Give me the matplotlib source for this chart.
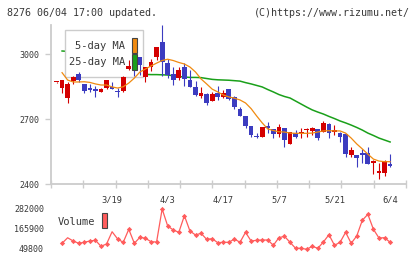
import numpy as np
import matplotlib
matplotlib.use("Agg")
import matplotlib.pyplot as plt
from matplotlib.patches import Rectangle

code = "8276"
updated = "06/04 17:00"
copyright_text = "(C)https://www.rizumu.net/"

date_labels = ["3/19", "4/3", "4/17", "5/7", "5/21", "6/4"]
date_label_idx = [10, 20, 30, 40, 50, 60]

opens = [2869, 2844, 2798, 2875, 2908, 2862, 2845, 2838, 2825, 2843,
         2846, 2828, 2829, 2931, 2942, 2985, 2895, 2942, 2988, 3057,
         2960, 2908, 2888, 2942, 2880, 2849, 2806, 2815, 2785, 2821,
         2800, 2838, 2800, 2745, 2714, 2668, 2622, 2618, 2668, 2652,
         2631, 2660, 2585, 2634, 2634, 2649, 2646, 2654, 2642, 2677,
         2641, 2634, 2631, 2534, 2534, 2545, 2545, 2498, 2449, 2452,
         2492]
highs = [2872, 2880, 2872, 2898, 2918, 2862, 2860, 2852, 2843, 2880,
         2872, 2843, 2897, 2972, 2963, 2987, 2940, 2975, 3034, 3134,
         2975, 2940, 2940, 2960, 2926, 2877, 2849, 2821, 2824, 2852,
         2834, 2838, 2806, 2757, 2714, 2668, 2637, 2665, 2688, 2652,
         2678, 2660, 2641, 2649, 2658, 2658, 2662, 2654, 2692, 2683,
         2672, 2638, 2631, 2569, 2534, 2560, 2572, 2511, 2495, 2511,
         2538]
lows = [2868, 2821, 2775, 2862, 2872, 2819, 2823, 2800, 2824, 2840,
        2838, 2803, 2827, 2925, 2900, 2905, 2872, 2923, 2972, 2900,
        2888, 2855, 2878, 2852, 2849, 2808, 2796, 2767, 2781, 2789,
        2798, 2789, 2745, 2714, 2658, 2618, 2612, 2618, 2634, 2614,
        2618, 2572, 2583, 2611, 2611, 2618, 2625, 2603, 2642, 2611,
        2626, 2592, 2526, 2523, 2480, 2495, 2492, 2446, 2423, 2437,
        2480]
closes = [2872, 2880, 2862, 2892, 2880, 2829, 2834, 2831, 2838, 2880,
          2840, 2823, 2895, 2945, 2936, 2949, 2938, 2965, 3034, 2965,
          2903, 2880, 2926, 2883, 2849, 2811, 2821, 2772, 2815, 2803,
          2821, 2791, 2754, 2714, 2668, 2626, 2616, 2665, 2660, 2631,
          2662, 2603, 2641, 2618, 2641, 2656, 2657, 2611, 2683, 2634,
          2649, 2618, 2538, 2557, 2521, 2534, 2492, 2506, 2461, 2508,
          2483]

nan = float("nan")
ma5 = [nan, 2914, 2880, 2871, 2871, 2872, 2869, 2862, 2857, 2857,
       2848, 2843, 2849, 2866, 2889, 2917, 2931, 2945, 2958, 2970,
       2976, 2970, 2961, 2954, 2940, 2917, 2885, 2862, 2838, 2825,
       2811, 2802, 2796, 2788, 2774, 2748, 2714, 2682, 2654, 2647,
       2641, 2640, 2635, 2634, 2634, 2634, 2635, 2640, 2645, 2646,
       2645, 2645, 2635, 2612, 2585, 2562, 2538, 2515, 2506, 2503,
       2503]
ma25 = [nan, 3014, 3012, nan, nan, nan, nan, nan, nan, nan,
        nan, nan, nan, nan, nan, 2908, 2906, 2905, 2905, 2904,
        2903, 2900, 2896, 2894, 2892, 2892, 2891, 2887, 2883, 2881,
        2880, 2879, 2877, 2875, 2868, 2862, 2855, 2848, 2836, 2825,
        2813, 2804, 2797, 2783, 2769, 2755, 2742, 2732, 2723, 2712,
        2702, 2691, 2682, 2672, 2661, 2649, 2635, 2624, 2612, 2603,
        2594]
volume = [nan, 82900, 115000, 96200, 82900, 88700, 96200, 100300, 65500, 78800,
          150000, 107800, 88700, 164200, 82900, 117700, 111900, 92200, 90400, 282000,
          183300, 160100, 146700, 243100, 154300, 131100, 140900, 106100, 109600, 86400,
          88700, 88700, 107800, 88700, 146700, 96200, 100300, 102000, 102000, 71300,
          115400, 123500, 88700, 53900, 53900, 48100, 65500, 53900, 90400, 132800,
          71300, 88700, 146700, 82900, 125300, 216400, 251200, 164200, 113700, 115400,
          88700]

price_ticks = [2400, 2700, 3000]
volume_ticks = [49800, 165900, 282000]

# ---------------------------------------------------------------
W, H = 420, 259
fig = plt.figure(figsize=(W / 100, H / 100), dpi=100)
fig.patch.set_facecolor("white")
MONO = "DejaVu Sans Mono"
TXT = "#383838"
GRAY = "#cccccc"
RED = "#d40000"
BLUE = "#3c3cc0"


def fx(px):
    return px / W


def fy(py):
    return 1 - py / H


idx = np.arange(len(closes))
x0, x1 = -0.99, 62.86

ax = fig.add_axes([fx(51), fy(184), fx(406) - fx(51), fy(25) - fy(184)])
ax.set_xlim(x0, x1)
ax.set_ylim(2400, 3134)
for s in ("top", "right"):
    ax.spines[s].set_visible(False)
for s in ("left", "bottom"):
    ax.spines[s].set_color(GRAY)
    ax.spines[s].set_linewidth(1.3)

ax.set_yticks(price_ticks)
ax.set_yticklabels([str(v) for v in price_ticks], family=MONO, fontsize=6, color=TXT)
ax.tick_params(axis="y", direction="out", length=4.3, width=1, color=GRAY, pad=4)

ax.set_xticks(date_label_idx)
ax.set_xticklabels(date_labels, family=MONO, fontsize=6.3, color=TXT)
ax.tick_params(axis="x", which="major", length=0, pad=8)
ax.set_xticks(np.linspace(x0, x1, 12), minor=True)
ax.tick_params(axis="x", which="minor", direction="inout", length=6, width=1, color=GRAY)

colors = [RED if c >= o else BLUE for o, c in zip(opens, closes)]
ax.vlines(idx, lows, highs, colors=colors, lw=0.8, zorder=3)
bottoms = [min(o, c) for o, c in zip(opens, closes)]
heights = [max(abs(c - o), 5) for o, c in zip(opens, closes)]
ax.bar(idx, heights, 0.85, bottom=bottoms, color=colors, linewidth=0, zorder=3.5)

ax.plot(idx, ma25, color="#1aa01a", lw=1.1, zorder=1)
ax.plot(idx, ma5, color="#f08a10", lw=0.9, zorder=4)

# legend box
ax.add_patch(Rectangle((fx(65), fy(77)), fx(143) - fx(65), fy(30) - fy(77),
                       transform=fig.transFigure, facecolor="white",
                       edgecolor=GRAY, lw=1, zorder=2, clip_on=False))
ax.text(fx(125), fy(46), "5-day MA", transform=fig.transFigure, ha="right",
        va="center", family=MONO, fontsize=7.5, color=TXT, zorder=5)
ax.text(fx(125), fy(62), "25-day MA", transform=fig.transFigure, ha="right",
        va="center", family=MONO, fontsize=7.5, color=TXT, zorder=5)
ax.add_patch(Rectangle((fx(131.5), fy(52.5)), 5.5 / W, 15 / H, transform=fig.transFigure,
                       facecolor="#f08a10", edgecolor="#444444", lw=0.8, zorder=5, clip_on=False))
ax.add_patch(Rectangle((fx(131.5), fy(69.5)), 5.5 / W, 15.5 / H, transform=fig.transFigure,
                       facecolor="#1aa01a", edgecolor="#444444", lw=0.8, zorder=5, clip_on=False))

# volume panel
vax = fig.add_axes([fx(51), fy(255), fx(406) - fx(51), fy(203) - fy(255)])
vax.set_xlim(x0, x1)
vax.set_ylim(14970, 316830)
for s in vax.spines.values():
    s.set_visible(False)
vax.set_xticks([])
vax.set_yticks(volume_ticks)
vax.set_yticklabels([str(v) for v in volume_ticks], family=MONO, fontsize=6, color=TXT)
vax.tick_params(axis="y", length=0, pad=5)
mk = [i for i in range(len(volume)) if i not in (0, 2, 10)]
vax.plot(idx, volume, color="#ff5c5c", lw=0.9, marker="D", ms=2.7, mew=0,
         markevery=mk, zorder=3)

fig.text(fx(58), fy(222), "Volume", ha="left", va="center", family=MONO,
         fontsize=7.5, color=TXT)
fig.patches.append(Rectangle((fx(102), fy(228)), 5.5 / W, 15 / H, transform=fig.transFigure,
                             facecolor="#ff5c5c", edgecolor="#444444", lw=0.8))

# header
fig.text(fx(7), fy(12.5), f"{code} {updated} updated.", ha="left", va="center",
         family=MONO, fontsize=7.2, color=TXT)
fig.text(fx(410), fy(12.5), copyright_text, ha="right", va="center",
         family=MONO, fontsize=7.2, color=TXT)

fig.savefig("out.png", dpi=100)
